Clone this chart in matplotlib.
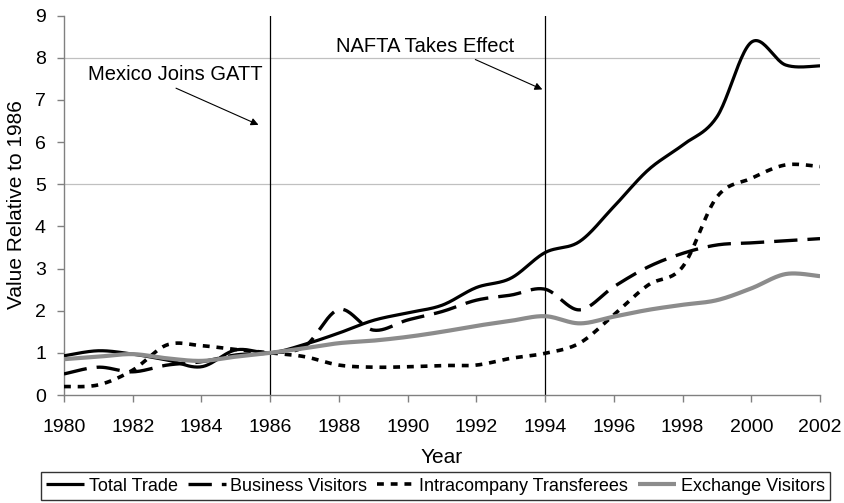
import numpy as np
import matplotlib
matplotlib.use("Agg")
import matplotlib.pyplot as plt

plt.rcParams['font.family'] = ['Liberation Sans', 'DejaVu Sans']

years = list(range(1980, 2003))
total_trade = [0.93, 1.05, 0.97, 0.83, 0.67, 1.07, 1.00, 1.20, 1.47, 1.77, 1.95,
               2.13, 2.55, 2.77, 3.38, 3.64, 4.47, 5.34, 5.93, 6.60, 8.37, 7.83, 7.81]
business_visitors = [0.50, 0.66, 0.55, 0.71, 0.79, 0.95, 1.00, 1.15, 2.03, 1.54, 1.78,
                     1.98, 2.25, 2.37, 2.51, 2.02, 2.57, 3.04, 3.36, 3.56, 3.61, 3.66, 3.71]
intracompany = [0.20, 0.24, 0.59, 1.19, 1.17, 1.08, 1.00, 0.91, 0.71, 0.66, 0.67,
                0.70, 0.71, 0.87, 0.99, 1.23, 1.90, 2.61, 3.04, 4.70, 5.14, 5.46, 5.42]
exchange = [0.85, 0.91, 0.97, 0.87, 0.81, 0.91, 1.00, 1.11, 1.23, 1.29, 1.38,
            1.50, 1.64, 1.76, 1.87, 1.70, 1.86, 2.02, 2.14, 2.25, 2.53, 2.87, 2.82]
labels = ['Total Trade', 'Business Visitors', 'Intracompany Transferees', 'Exchange Visitors']
event_years = [1986, 1994]
event_texts = ['Mexico Joins GATT', 'NAFTA Takes Effect']


def smooth(x, y, n=24):
    """Excel-like smoothed line: cubic Bezier through points (Catmull-Rom tangents)."""
    x = np.asarray(x, float)
    y = np.asarray(y, float)
    px = np.concatenate([[x[0]], x, [x[-1]]])
    py = np.concatenate([[y[0]], y, [y[-1]]])
    xs, ys = [], []
    t = np.linspace(0, 1, n, endpoint=False)
    for i in range(1, len(px) - 2):
        p0 = np.array([px[i], py[i]])
        p3 = np.array([px[i + 1], py[i + 1]])
        c1 = p0 + (np.array([px[i + 1], py[i + 1]]) - np.array([px[i - 1], py[i - 1]])) / 6
        c2 = p3 - (np.array([px[i + 2], py[i + 2]]) - np.array([px[i], py[i]])) / 6
        b = ((1 - t) ** 3)[:, None] * p0 + (3 * (1 - t) ** 2 * t)[:, None] * c1 \
            + (3 * (1 - t) * t ** 2)[:, None] * c2 + (t ** 3)[:, None] * p3
        xs.extend(b[:, 0]); ys.extend(b[:, 1])
    xs.append(x[-1]); ys.append(y[-1])
    return np.array(xs), np.array(ys)


fig = plt.figure(figsize=(8.44, 5.03), dpi=100)
ax = fig.add_axes([0.0758, 0.2147, 0.8958, 0.7541])

for yv in (5, 8):
    ax.axhline(yv, color='#c0c0c0', lw=0.9, zorder=0)

for yr in event_years:
    ax.axvline(yr, color='black', lw=0.9, zorder=1)

styles = [
    dict(color='black', lw=2.3, ls='-'),
    dict(color='black', lw=2.4, ls=(0, (7, 3))),
    dict(color='black', lw=2.6, ls=(0, (1.9, 1.9))),
    dict(color='#8c8c8c', lw=3.0, ls='-'),
]
series = [total_trade, business_visitors, intracompany, exchange]
for s, lab, st in zip(series, labels, styles):
    sx, sy = smooth(years, s)
    ax.plot(sx, sy, label=lab, zorder=3, solid_capstyle='butt', dash_capstyle='butt', **st)

# annotations: text and arrows
ax.text(1983.25, 7.47, event_texts[0], fontsize=14.5, ha='center', va='baseline')
ax.annotate('', xy=(1985.66, 6.41), xytext=(1983.26, 7.28),
            arrowprops=dict(arrowstyle='-|>', color='black', lw=0.8,
                            mutation_scale=11, shrinkA=0, shrinkB=0))
ax.text(1990.52, 8.15, event_texts[1], fontsize=14.5, ha='center', va='baseline')
ax.annotate('', xy=(1993.92, 7.25), xytext=(1991.97, 7.96),
            arrowprops=dict(arrowstyle='-|>', color='black', lw=0.8,
                            mutation_scale=11, shrinkA=0, shrinkB=0))

ax.set_xlim(1980, 2002)
ax.set_ylim(0, 9)
ax.set_xticks(range(1980, 2003, 2))
ax.set_yticks(range(0, 10))
ax.tick_params(axis='both', labelsize=14, color='#808080', length=5, width=1, direction='out')
ax.tick_params(axis='x', pad=12.5)
ax.tick_params(axis='y', pad=8)
for side in ('top', 'right'):
    ax.spines[side].set_visible(False)
for side in ('left', 'bottom'):
    ax.spines[side].set_color('#808080')
    ax.spines[side].set_linewidth(1)

fig.text(0.020, 0.5924, 'Value Relative to 1986', rotation=90, ha='center', va='center',
         fontsize=15)
fig.text(0.5233, 0.0895, 'Year', ha='center', va='center', fontsize=15)

leg = fig.legend(loc='lower center', bbox_to_anchor=(0.516, 0.006), ncol=4, fontsize=13,
                 frameon=True, fancybox=False, edgecolor='black', handlelength=2.1,
                 handletextpad=0.25, columnspacing=0.55, borderpad=0.3, borderaxespad=0)
leg.get_frame().set_linewidth(1.0)

fig.savefig('out.png', dpi=100)
